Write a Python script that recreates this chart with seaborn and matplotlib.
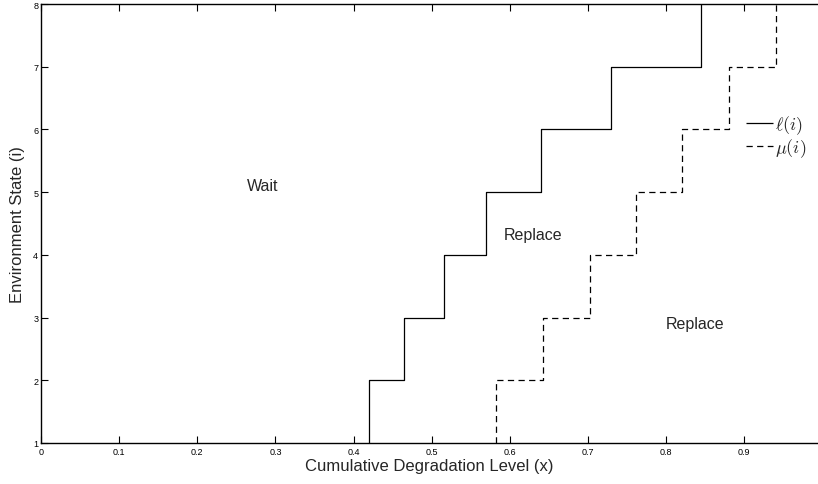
import numpy as np
import pandas as pd
import matplotlib
matplotlib.use("Agg")
import matplotlib.pyplot as plt
import seaborn as sns

# Data: thresholds for environment states 1..7 (step up to state i+1)
states = [1, 2, 3, 4, 5, 6, 7]
ell = [0.42, 0.465, 0.516, 0.570, 0.640, 0.730, 0.845]
mu = [0.582, 0.642, 0.702, 0.761, 0.820, 0.881, 0.941]
xticks = [0, 0.1, 0.2, 0.3, 0.4, 0.5, 0.6, 0.7, 0.8, 0.9]
xtick_labels = ["0", "0.1", "0.2", "0.3", "0.4", "0.5", "0.6", "0.7", "0.8", "0.9"]
yticks = [1, 2, 3, 4, 5, 6, 7, 8]
region_labels = ["Wait", "Replace", "Replace"]
region_x = [0.284, 0.630, 0.837]
region_y = [5.11, 4.32, 2.91]


def stairs(th, st):
    xs = np.repeat(th, 2)
    ys = np.ravel([[s, s + 1] for s in st])
    return xs, ys


sns.set_style("ticks")
plt.rcParams["font.family"] = ["Liberation Sans", "DejaVu Sans"]
plt.rcParams["mathtext.fontset"] = "cm"

fig = plt.figure(figsize=(8.18, 4.85), dpi=100)
ax = fig.add_axes([41 / 818, 41 / 485, 777 / 818, 439 / 485])

lx, ly = stairs(ell, states)
mx, my = stairs(mu, states)
df = pd.concat([
    pd.DataFrame({"x": lx, "y": ly, "s": r"$\ell(i)$"}),
    pd.DataFrame({"x": mx, "y": my, "s": r"$\mu(i)$"}),
])
sns.lineplot(data=df, x="x", y="y", hue="s", style="s", sort=False,
             estimator=None, palette=["black", "black"],
             dashes=[(1, 0), (5, 3.5)],
             linewidth=0.9, ax=ax)

ax.set_xlim(0, 777 / 781.4)
ax.set_ylim(1, 8)
ax.set_xticks(xticks)
ax.set_xticklabels(xtick_labels)
ax.set_yticks(yticks)
ax.tick_params(axis="both", direction="in", length=5, width=0.8, labelsize=6.5,
               top=True, pad=3, colors="black")
ax.tick_params(axis="y", pad=2)
for side in ["left", "top", "bottom"]:
    ax.spines[side].set_linewidth(1.0)
    ax.spines[side].set_color("black")
ax.spines["right"].set_visible(False)

ax.set_xlabel("Cumulative Degradation Level (x)", fontsize=12, labelpad=1)
ax.set_ylabel("Environment State (i)", fontsize=12, labelpad=6)

for t, x, y in zip(region_labels, region_x, region_y):
    ax.text(x, y, t, fontsize=11.5, ha="center", va="center")

leg = ax.legend(loc="center left", bbox_to_anchor=(733 / 818, 1 - 137 / 485),
                bbox_transform=fig.transFigure, frameon=False, fontsize=13,
                handlelength=1.5, handletextpad=0.1, labelspacing=0.0,
                borderpad=0.2)

fig.savefig("out.png", dpi=100)
